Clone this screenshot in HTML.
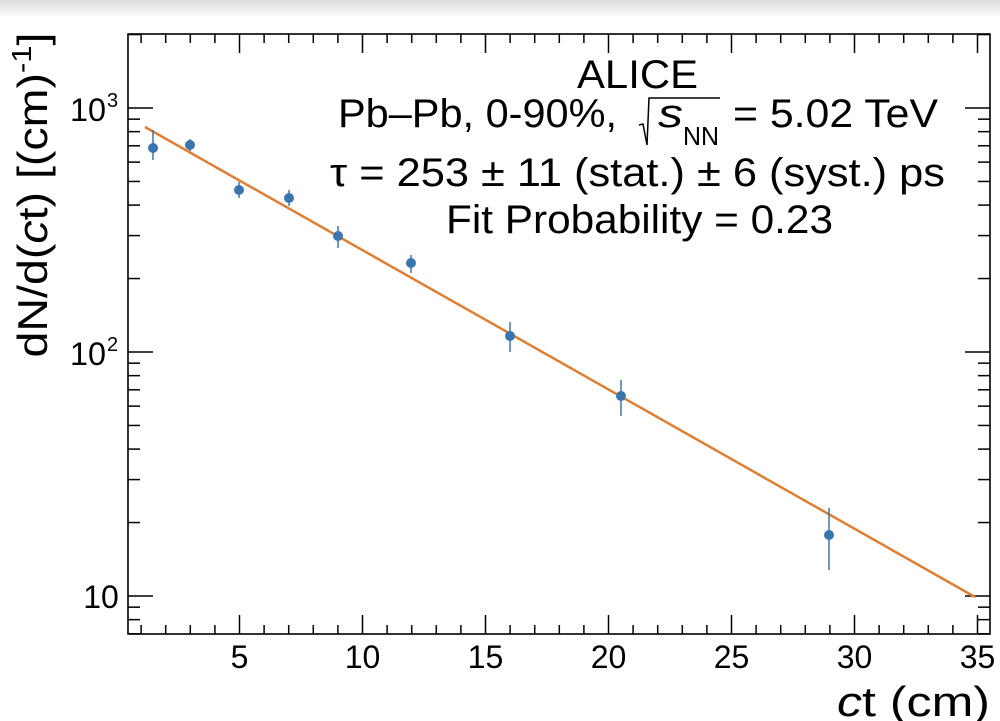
<!DOCTYPE html>
<html><head><meta charset="utf-8"><style>
body{margin:0;background:#fff;}
svg{display:block;font-family:"Liberation Sans",sans-serif;}
</style></head><body>
<svg id="s" width="1000" height="721" viewBox="0 0 1000 721">
<defs><linearGradient id="g" x1="0" y1="0" x2="0" y2="1"><stop offset="0" stop-color="#dcdcdc"/><stop offset="1" stop-color="#fafafa"/></linearGradient></defs>
<rect x="0" y="0" width="1000" height="16" fill="url(#g)"/>
<rect x="128" y="34" width="862" height="600" fill="none" stroke="#000" stroke-width="1.6"/>
<g id="ticks" stroke="#000" stroke-width="1.5"></g>
<g font-size="32" fill="#000">
<text x="70" y="121" textLength="36" lengthAdjust="spacingAndGlyphs">10</text><text x="107" y="107" font-size="20">3</text>
<text x="70" y="365" textLength="36" lengthAdjust="spacingAndGlyphs">10</text><text x="107" y="351" font-size="20">2</text>
<text x="101" y="608" text-anchor="middle">10</text>
<text x="239.5" y="668" text-anchor="middle">5</text>
<text x="362.5" y="668" text-anchor="middle">10</text>
<text x="485.5" y="668" text-anchor="middle">15</text>
<text x="608.5" y="668" text-anchor="middle">20</text>
<text x="731.5" y="668" text-anchor="middle">25</text>
<text x="854.5" y="668" text-anchor="middle">30</text>
<text x="977.5" y="668" text-anchor="middle">35</text>
</g>
<text x="990" y="716" text-anchor="end" font-size="42" textLength="153" lengthAdjust="spacingAndGlyphs"><tspan font-style="italic">c</tspan>t (cm)</text>
<text transform="translate(47,195) rotate(-90)" font-size="42" text-anchor="middle" textLength="325" lengthAdjust="spacingAndGlyphs">dN/d(<tspan font-style="italic">c</tspan>t) [(cm)<tspan font-size="28" dy="-16">-1</tspan><tspan dy="16">]</tspan></text>
<g font-size="40" fill="#000">
<text x="577" y="88" textLength="121" lengthAdjust="spacingAndGlyphs">ALICE</text>
<text x="338" y="127" textLength="279" lengthAdjust="spacingAndGlyphs">Pb–Pb, 0-90%,</text>
<text x="658" y="127" font-style="italic" textLength="25" lengthAdjust="spacingAndGlyphs">s</text>
<text x="683" y="145" font-size="26" textLength="36" lengthAdjust="spacingAndGlyphs">NN</text>
<text x="733" y="127" textLength="205" lengthAdjust="spacingAndGlyphs">= 5.02 TeV</text>
<text x="330" y="186" textLength="615" lengthAdjust="spacingAndGlyphs">τ = 253 ± 11 (stat.) ± 6 (syst.) ps</text>
<text x="446" y="233" textLength="387" lengthAdjust="spacingAndGlyphs">Fit Probability = 0.23</text>
</g>
<polyline points="639,125 643,124 647,145 649,98 720,98" fill="none" stroke="#000" stroke-width="1.5"/>
<line x1="145" y1="127" x2="975" y2="597" stroke="#e07f33" stroke-width="2.5"/>
<g id="pts" fill="#3b75b0" stroke="#3b75b0" stroke-width="1.5"></g>
</svg>
<script>
var ns="http://www.w3.org/2000/svg";
function L(g,x1,y1,x2,y2){var l=document.createElementNS(ns,"line");l.setAttribute("x1",x1);l.setAttribute("y1",y1);l.setAttribute("x2",x2);l.setAttribute("y2",y2);g.appendChild(l);}
var t=document.getElementById("ticks");
for(var i=1;i<=35;i++){var x=116.5+24.6*i;var len=(i%5==0)?19:9;L(t,x,634,x,634-len);L(t,x,34,x,34+len);}
for(var d=1;d<=3;d++){for(var m=1;m<=9;m++){var v=m*Math.pow(10,d);var y=596-244*Math.log10(v/10);if(y<34||y>634)continue;var len=(m==1)?25:12;L(t,128,y,128+len,y);L(t,990,y,990-len,y);}}
for(var m=7;m<=9;m++){var y=596-244*Math.log10(m/10);if(y>634)continue;L(t,128,y,140,y);L(t,990,y,978,y);}
var p=document.getElementById("pts");
var pts=[[153,148,130,160],[190,145,139,151],[239,190,182,198],[289,198,190,206],[338,236,226,248],[411,263,255,273],[510,336,322,352],[621,396,380,416],[829,535,508,570]];
pts.forEach(function(q){L(p,q[0],q[2],q[0],q[3]);var c=document.createElementNS(ns,"circle");c.setAttribute("cx",q[0]);c.setAttribute("cy",q[1]);c.setAttribute("r",5);c.setAttribute("stroke","none");p.appendChild(c);});
</script>
</body></html>
